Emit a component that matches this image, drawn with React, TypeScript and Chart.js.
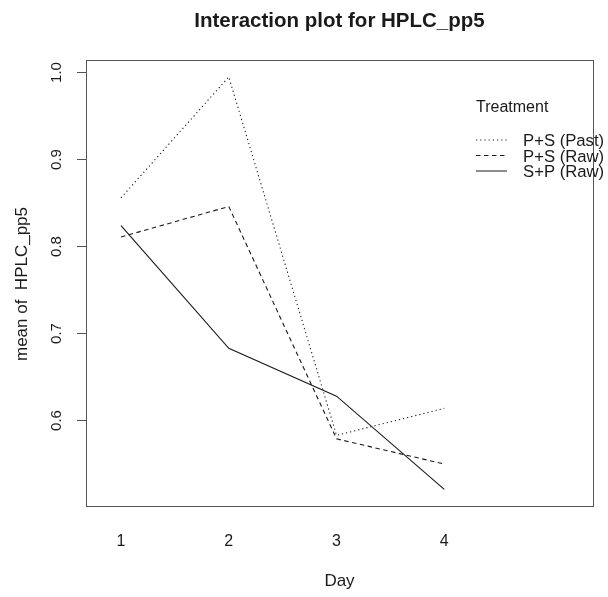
import React, { useEffect, useRef } from "react";
import { Chart, registerables } from "chart.js";

Chart.register(...registerables);

const days = [1, 2, 3, 4];
const treatments = ["P+S (Past)", "P+S (Raw)", "S+P (Raw)"];
const pastPS = [0.855, 0.994, 0.582, 0.613];
const rawPS = [0.810, 0.845, 0.578, 0.549];
const rawSP = [0.823, 0.682, 0.627, 0.520];
const yTicks = [0.6, 0.7, 0.8, 0.9, 1.0];
const yTickLabels = ["0.6", "0.7", "0.8", "0.9", "1.0"];
const xTickLabels = ["1", "2", "3", "4"];

const FONT = "'Liberation Sans', Arial, Helvetica, sans-serif";
const INK = "#1a1a1a";
const dashes: number[][] = [[1.2, 3], [4.5, 3.5], []];

const overlay = {
  id: "rOverlay",
  afterDraw(chart: any) {
    const ctx = chart.ctx as CanvasRenderingContext2D;
    const { left, right, top, bottom } = chart.chartArea;
    const xs = chart.scales.x;
    const ys = chart.scales.y;
    ctx.save();
    // box
    ctx.strokeStyle = "#555";
    ctx.lineWidth = 1;
    ctx.setLineDash([]);
    ctx.strokeRect(Math.round(left) + 0.5, Math.round(top) + 0.5, Math.round(right - left), Math.round(bottom - top));
    // y ticks
    ctx.fillStyle = INK;
    ctx.font = `15px ${FONT}`;
    yTicks.forEach((v, i) => {
      const py = Math.round(ys.getPixelForValue(v)) + 0.5;
      ctx.beginPath();
      ctx.moveTo(left, py);
      ctx.lineTo(left - 9, py);
      ctx.stroke();
      ctx.save();
      ctx.translate(57, py);
      ctx.rotate(-Math.PI / 2);
      ctx.textAlign = "center";
      ctx.textBaseline = "middle";
      ctx.fillText(yTickLabels[i], 0, 0);
      ctx.restore();
    });
    // x labels
    ctx.textAlign = "center";
    ctx.textBaseline = "middle";
    ctx.font = `16px ${FONT}`;
    days.forEach((d, i) => {
      ctx.fillText(xTickLabels[i], xs.getPixelForValue(d), 542);
    });
    // axis titles
    ctx.font = `17px ${FONT}`;
    ctx.fillText("Day", (left + right) / 2, 581);
    ctx.save();
    ctx.translate(22, (top + bottom) / 2 + 1);
    ctx.rotate(-Math.PI / 2);
    ctx.fillText("mean of  HPLC_pp5", 0, 0);
    ctx.restore();
    // title
    ctx.font = `bold 20.5px ${FONT}`;
    ctx.fillText("Interaction plot for HPLC_pp5", (left + right) / 2, 21);
    // legend
    ctx.font = `16px ${FONT}`;
    ctx.textAlign = "left";
    ctx.fillText("Treatment", 476, 108);
    ctx.font = `16.7px ${FONT}`;
    const ly = [140, 155.5, 171];
    const ty = [141, 157, 172];
    treatments.forEach((t, i) => {
      ctx.strokeStyle = INK;
      ctx.setLineDash(dashes[i]);
      ctx.beginPath();
      ctx.moveTo(476, ly[i]);
      ctx.lineTo(507, ly[i]);
      ctx.stroke();
      ctx.setLineDash([]);
      ctx.fillText(t, 523, ty[i]);
    });
    ctx.restore();
  },
};

export default function App() {
  const ref = useRef<HTMLCanvasElement | null>(null);
  useEffect(() => {
    document.body.style.margin = "0";
    if (!ref.current) return;
    const series = [pastPS, rawPS, rawSP];
    const chart = new Chart(ref.current, {
      type: "line",
      data: {
        datasets: series.map((s, i) => ({
          label: treatments[i],
          data: days.map((d, j) => ({ x: d, y: s[j] })),
          borderColor: INK,
          borderWidth: 1.1,
          borderDash: dashes[i],
          pointRadius: 0,
          tension: 0,
          fill: false,
        })),
      },
      options: {
        responsive: false,
        animation: false,
        layout: { padding: { left: 86, right: 15, top: 60, bottom: 91 } },
        scales: {
          x: { type: "linear", min: 0.675, max: 5.38, display: false },
          y: { type: "linear", min: 0.5008, max: 1.0134, display: false },
        },
        plugins: {
          legend: { display: false },
          title: { display: false },
          tooltip: { enabled: false },
        },
      },
      plugins: [overlay],
    });
    return () => chart.destroy();
  }, []);
  return (
    <div style={{ background: "#fff" }}>
      <canvas ref={ref} width={608} height={597} style={{ display: "block", width: 608, height: 597 }} />
    </div>
  );
}
